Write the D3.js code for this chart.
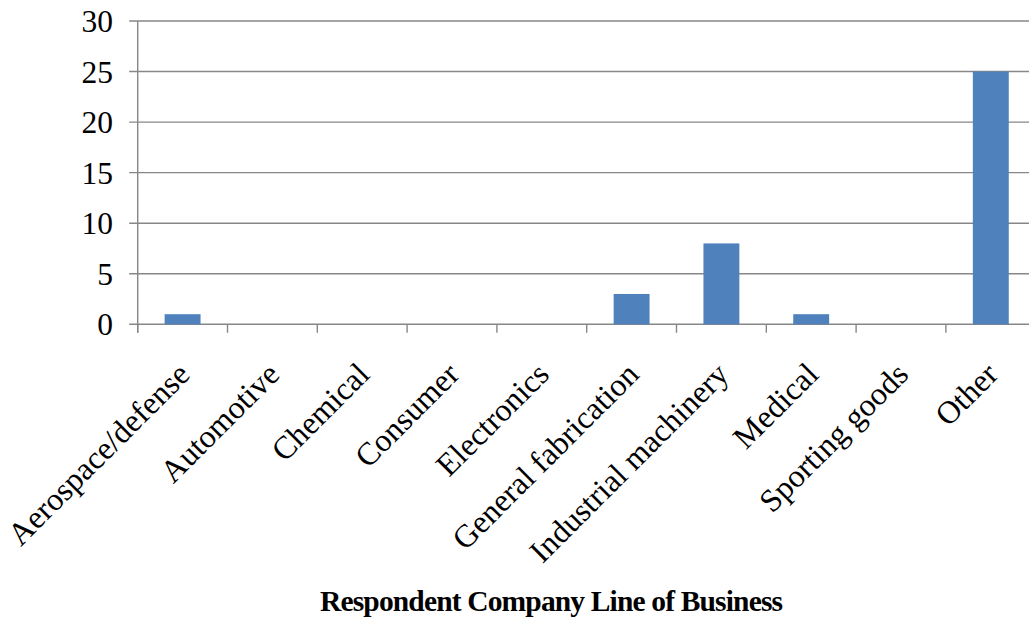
<!DOCTYPE html>
<html>
<head>
<meta charset="utf-8">
<script src="https://cdn.jsdelivr.net/npm/d3@7"></script>
<style>
  html, body { margin: 0; padding: 0; background: #fff; }
  svg { display: block; }
  text { font-family: "Liberation Serif", "Times New Roman", serif; fill: #000; }
</style>
</head>
<body>
<div id="chart"></div>
<script>
// Respondents by company line of business
const categories = [
  "Aerospace/defense", "Automotive", "Chemical", "Consumer", "Electronics",
  "General fabrication", "Industrial machinery", "Medical", "Sporting goods", "Other"
];
const counts = [1, 0, 0, 0, 0, 3, 8, 1, 0, 25];
const yTicks = [0, 5, 10, 15, 20, 25, 30];
const xTitle = "Respondent Company Line of Business";

const W = 1029, H = 620;
const plot = { left: 137.7, right: 1035.7, top: 21, bottom: 324.3 };
const gridColor = "#878787";
const barColor = "#4F81BD";

const svg = d3.select("#chart").append("svg")
  .attr("width", W).attr("height", H);

const x = d3.scaleBand()
  .domain(categories)
  .range([plot.left, plot.right])
  .paddingInner(0.6).paddingOuter(0.3);

const y = d3.scaleLinear()
  .domain([0, 30])
  .range([plot.bottom, plot.top]);

// horizontal gridlines with short ticks left of the axis
svg.append("g").selectAll("line")
  .data(yTicks)
  .join("line")
  .attr("x1", plot.left - 8.5).attr("x2", plot.right)
  .attr("y1", d => y(d)).attr("y2", d => y(d))
  .attr("stroke", gridColor).attr("stroke-width", 1.4);

// y tick labels
svg.append("g").selectAll("text")
  .data(yTicks)
  .join("text")
  .attr("x", 113).attr("y", d => y(d))
  .attr("dy", "0.35em")
  .attr("text-anchor", "end")
  .style("font-size", "31.5px")
  .text(d => d);

// bars
svg.append("g").selectAll("rect")
  .data(categories.map((c, i) => ({ c, v: counts[i] })))
  .join("rect")
  .attr("x", d => x(d.c))
  .attr("width", x.bandwidth())
  .attr("y", d => y(d.v))
  .attr("height", d => y(0) - y(d.v))
  .attr("fill", barColor);

// y axis line
svg.append("line")
  .attr("x1", plot.left).attr("x2", plot.left)
  .attr("y1", plot.top).attr("y2", plot.bottom + 8.5)
  .attr("stroke", gridColor).attr("stroke-width", 1.4);

// x category boundary ticks
const step = (plot.right - plot.left) / categories.length;
svg.append("g").selectAll("line")
  .data(d3.range(categories.length + 1))
  .join("line")
  .attr("x1", i => plot.left + i * step).attr("x2", i => plot.left + i * step)
  .attr("y1", plot.bottom).attr("y2", plot.bottom + 8.5)
  .attr("stroke", gridColor).attr("stroke-width", 1.4);

// rotated category labels
svg.append("g").selectAll("text")
  .data(categories)
  .join("text")
  .attr("transform", d => `translate(${x(d) + x.bandwidth() / 2 + 9},${plot.bottom + 52}) rotate(-45)`)
  .attr("text-anchor", "end")
  .style("font-size", "32px")
  .text(d => d);

// axis title
svg.append("text")
  .attr("x", 320).attr("y", 611)
  .attr("textLength", 463)
  .attr("lengthAdjust", "spacing")
  .style("font-size", "29.5px")
  .style("font-weight", "bold")
  .text(xTitle);
</script>
</body>
</html>
